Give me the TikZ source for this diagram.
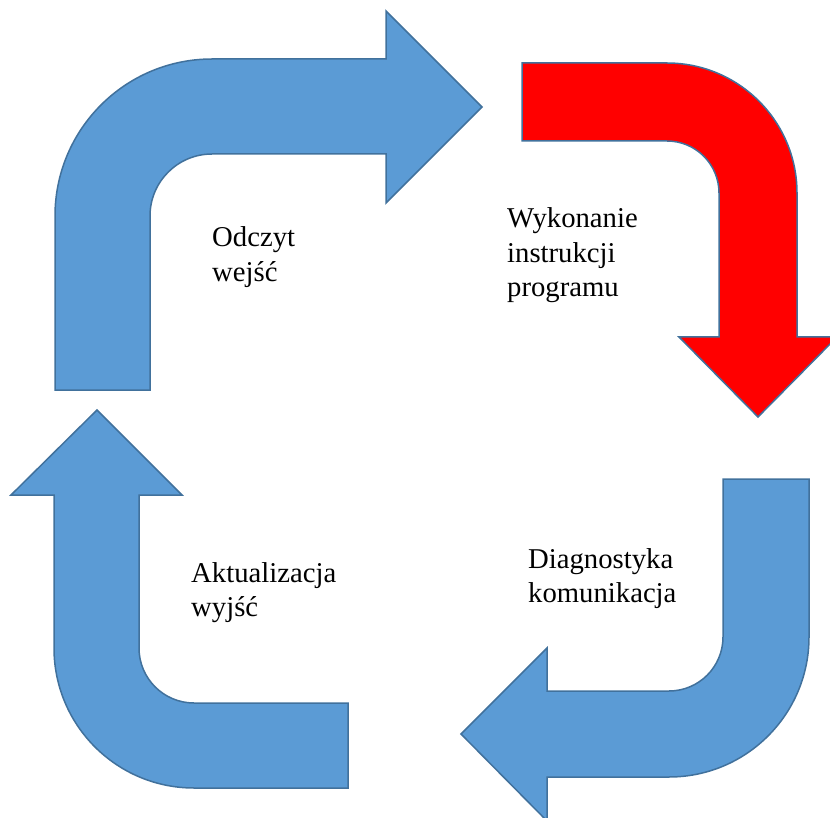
\documentclass[tikz,border=0pt]{standalone}
\usepackage{fontspec}
\setmainfont{Liberation Serif}
\usepackage{xcolor}
\usepackage{tikz}
\usetikzlibrary{positioning}

\definecolor{cycleblue}{HTML}{5B9BD5}
\definecolor{cycleedge}{HTML}{41719C}
\definecolor{cyclered}{HTML}{FF0000}

\begin{document}
\begin{tikzpicture}[x=1pt, y=-1pt,
  bluearrow/.style={fill=cycleblue, draw=cycleedge, line width=1.5pt, line join=miter},
  redarrow/.style={fill=cyclered, draw=cycleedge, line width=1.5pt, line join=miter},
  steplabel/.style={anchor=base west, inner sep=0pt, align=left,
    font=\fontsize{28.7}{34.5}\selectfont}]
  \clip (0,0) rectangle (830,818);

  % top left: read inputs
  \draw[bluearrow] (55,390) -- (55,216) arc[start angle=180, end angle=270, radius=157]
    -- (386,59) -- (386,11) -- (482,107) -- (386,203) -- (386,154) -- (212,154)
    arc[start angle=270, end angle=180, radius=62] -- (150,390) -- cycle;
  \node[steplabel] (odczyt) at (212,281.5) {Odczyt\\wejść};

  % top right: program execution (active step)
  \draw[redarrow] (522,63) -- (667,63) arc[start angle=270, end angle=360, radius=130]
    -- (797,337) -- (837,337) -- (758,417) -- (679,337) -- (719,337) -- (719,193)
    arc[start angle=0, end angle=-90, radius=52] -- (522,141) -- cycle;
  \node[steplabel] (wykonanie) at (507,297) {Wykonanie\\instrukcji\\programu};

  % bottom right: diagnostics
  \draw[bluearrow] (723,479) -- (809,479) -- (809,637) arc[start angle=0, end angle=90, radius=140]
    -- (547,777) -- (547,821) -- (461,734) -- (547,648) -- (547,691) -- (669,691)
    arc[start angle=90, end angle=0, radius=54] -- cycle;
  \node[steplabel] (diagnostyka) at (528,602.5) {Diagnostyka\\komunikacja};

  % bottom left: update outputs
  \draw[bluearrow] (348,788) -- (194,788) arc[start angle=90, end angle=180, radius=140]
    -- (54,495) -- (11,495) -- (97,410) -- (182,495) -- (139,495) -- (139,648)
    arc[start angle=180, end angle=90, radius=55] -- (348,703) -- cycle;
  \node[steplabel] (aktualizacja) at (191,616.5) {Aktualizacja\\wyjść};
\end{tikzpicture}
\end{document}
